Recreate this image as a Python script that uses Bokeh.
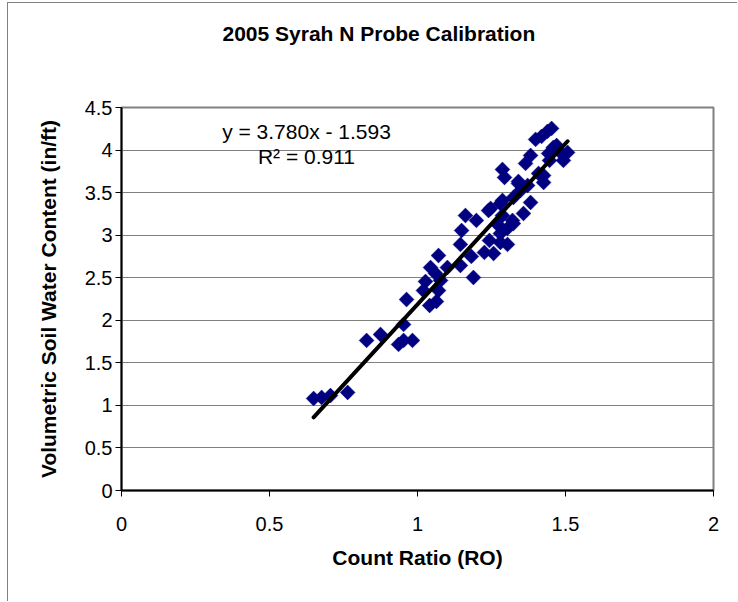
from bokeh.plotting import figure
from bokeh.models import Range1d, FixedTicker, NumeralTickFormatter, Label, Title
from bokeh.embed import file_html
from bokeh.resources import INLINE
import math

# Data
count_ratio = [0.649, 0.676, 0.706, 0.764, 0.828, 0.875, 0.936, 0.953, 0.983, 0.953,
               0.963, 1.041, 1.064, 1.020, 1.027, 1.071, 1.044, 1.061, 1.078, 1.071,
               1.101, 1.145, 1.145, 1.182, 1.189, 1.149, 1.162, 1.199, 1.240, 1.226,
               1.257, 1.243, 1.280, 1.280, 1.304, 1.287, 1.274, 1.304, 1.321, 1.358,
               1.324, 1.280, 1.247, 1.287, 1.324, 1.382, 1.341, 1.348, 1.287, 1.294,
               1.341, 1.365, 1.382, 1.399, 1.419, 1.439, 1.426, 1.426, 1.443, 1.459,
               1.483, 1.493, 1.507, 1.446, 1.453, 1.470, 1.372, 1.409]
water_content = [1.081, 1.093, 1.116, 1.152, 1.763, 1.833, 1.716, 1.763, 1.763, 1.951,
                 2.244, 2.174, 2.221, 2.350, 2.456, 2.350, 2.620, 2.550, 2.468, 2.761,
                 2.620, 2.644, 2.891, 2.750, 2.503, 3.055, 3.231, 3.173, 3.290, 2.797,
                 2.785, 2.938, 3.020, 2.914, 2.891, 3.231, 3.114, 3.079, 3.173, 3.255,
                 3.137, 3.372, 3.314, 3.408, 3.443, 3.384, 3.607, 3.525, 3.772, 3.678,
                 3.631, 3.843, 3.937, 4.125, 4.160, 4.219, 3.701, 3.619, 3.960, 4.031,
                 3.972, 3.878, 3.972, 3.878, 4.254, 4.054, 3.584, 3.725]

fit_slope = 3.780
fit_intercept = -1.593
fit_r2 = 0.911

x_ticks = [0, 0.5, 1, 1.5, 2]
y_ticks = [0, 0.5, 1, 1.5, 2, 2.5, 3, 3.5, 4, 4.5]

title_text = "2005 Syrah N Probe Calibration"
x_title = "Count Ratio (RO)"
y_title = "Volumetric Soil Water Content (in/ft)"

FONT = "Liberation Sans"

p = figure(width=730, height=599, output_backend="svg", toolbar_location=None,
           x_range=Range1d(0, 2), y_range=Range1d(0, 4.5),
           min_border_left=113, min_border_right=25, min_border_top=104,
           min_border_bottom=112)
p.styles = {"margin-left": "7px", "margin-top": "2px",
            "border-left": "1px solid #808080", "border-top": "1px solid #808080"}
p.background_fill_color = "white"
p.border_fill_color = "white"
p.outline_line_color = "#808080"
p.outline_line_width = 2

# blank white spacer panel next to the frame, then the real title above it
p.add_layout(Title(text="\u00a0", text_color="white", text_font=FONT,
                   text_font_size="21px", standoff=19), "above")
p.add_layout(Title(text=title_text, align="left", offset=101, vertical_align="top",
                   text_font=FONT, text_font_style="bold", text_font_size="21px",
                   text_color="black", standoff=34), "above")

p.xgrid.visible = False
p.ygrid.grid_line_color = "#808080"
p.ygrid.grid_line_width = 1
p.ygrid.ticker = FixedTicker(ticks=y_ticks)

for ax in (p.xaxis[0], p.yaxis[0]):
    ax.axis_line_color = "black"
    ax.axis_line_width = 2
    ax.major_tick_line_color = "black"
    ax.major_tick_in = 0
    ax.major_tick_out = 6
    ax.minor_tick_line_color = None
    ax.major_label_text_font = FONT
    ax.major_label_text_font_size = "20px"
    ax.major_label_text_color = "black"
    ax.axis_label_text_font = FONT
    ax.axis_label_text_font_style = "bold"
    ax.axis_label_text_font_size = "21px"
    ax.axis_label_text_color = "black"
    ax.formatter = NumeralTickFormatter(format="0.[0]")

p.xaxis.ticker = FixedTicker(ticks=x_ticks)
p.yaxis.ticker = FixedTicker(ticks=y_ticks)
p.xaxis.axis_label = x_title
p.yaxis.axis_label = y_title
p.xaxis.major_label_standoff = 20
p.xaxis.axis_label_standoff = 12
p.yaxis.major_label_standoff = 3
p.yaxis.axis_label_standoff = 22

p.scatter(count_ratio, water_content, marker="square", size=10.5, angle=math.pi / 4,
          fill_color="#000080", line_color="#000080", line_width=0.5)

x0 = min(count_ratio)
x1 = max(count_ratio)
p.line([x0, x1], [fit_slope * x0 + fit_intercept, fit_slope * x1 + fit_intercept],
       line_color="black", line_width=4, line_cap="round")

eq1 = "y = %.3fx - %.3f" % (fit_slope, -fit_intercept)
eq2 = "R² = %.3f" % fit_r2
p.add_layout(Label(x=0.625, y=4.22, text=eq1, text_align="center", text_baseline="middle",
                   text_font=FONT, text_font_size="21px", text_color="black"))
p.add_layout(Label(x=0.625, y=3.925, text=eq2, text_align="center", text_baseline="middle",
                   text_font=FONT, text_font_size="21px", text_color="black"))

open("out.html", "w").write(file_html(p, INLINE))
